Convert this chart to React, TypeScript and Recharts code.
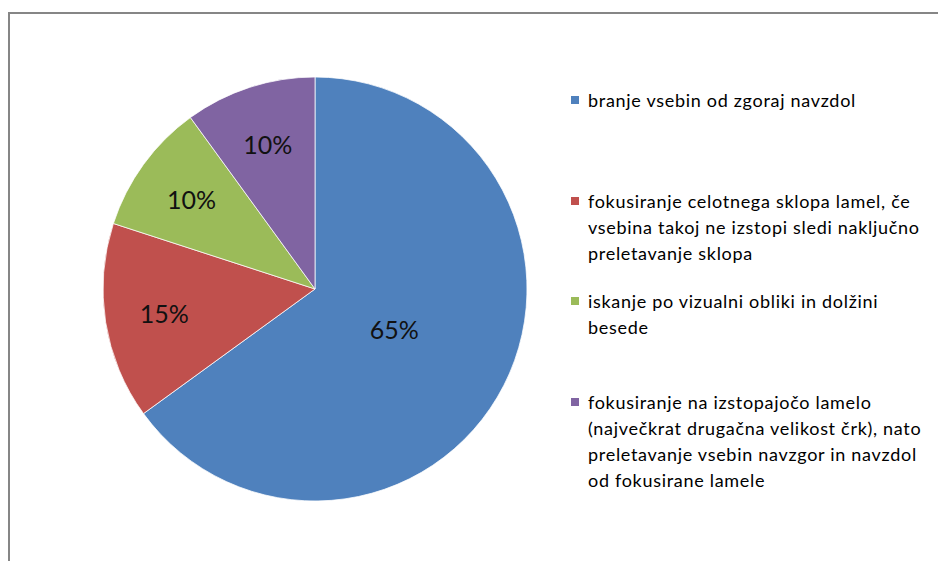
import { PieChart, Pie, Cell, Legend } from "recharts"

const categories = [
  "branje vsebin od zgoraj navzdol",
  "fokusiranje celotnega sklopa lamel, če vsebina takoj ne izstopi sledi naključno preletavanje sklopa",
  "iskanje po vizualni obliki in dolžini besede",
  "fokusiranje na izstopajočo lamelo (največkrat drugačna velikost črk), nato preletavanje vsebin navzgor in navzdol od fokusirane lamele",
]
const shares = [65, 15, 10, 10]
const colors = ["#4F81BD", "#C0504D", "#9BBB59", "#8064A2"]

const data = categories.map((name, i) => ({ name, value: shares[i] }))

const RADIAN = Math.PI / 180
const FONT = "Lato, 'Open Sans', sans-serif"

function renderLabel(props: any) {
  const { cx, cy, midAngle, outerRadius, percent } = props
  // big slice label sits closer to the centre, like Excel does
  const r = outerRadius * (percent > 0.5 ? 0.42 : 0.72)
  const x = cx + r * Math.cos(-midAngle * RADIAN)
  const y = cy + r * Math.sin(-midAngle * RADIAN)
  return (
    <text
      x={x}
      y={y}
      textAnchor="middle"
      dominantBaseline="central"
      fill="#111"
      fontSize={25}
      fontFamily={FONT}
    >
      {`${Math.round(percent * 100)}%`}
    </text>
  )
}

function LegendList({ payload }: any) {
  // keep the order of the categories (legend sorts by value otherwise)
  const items = [...(payload ?? [])].sort(
    (a: any, b: any) => categories.indexOf(a.value) - categories.indexOf(b.value)
  )
  return (
    <div style={{ fontFamily: FONT, fontSize: 18, color: "#000" }}>
      {items.map((entry: any, i: number) => (
        <div key={i} style={{ height: 100.7, display: "flex", alignItems: "flex-start" }}>
          <span
            style={{
              width: 8,
              height: 8,
              background: entry.color,
              marginTop: 9,
              marginRight: 9,
              flexShrink: 0,
            }}
          />
          <span style={{ lineHeight: "26px", letterSpacing: 0.7, width: 352 }}>{entry.value}</span>
        </div>
      ))}
    </div>
  )
}

export default function App() {
  return (
    <div style={{ position: "relative", width: 938, height: 553, overflow: "hidden", background: "#fff" }}>
      <div
        style={{
          position: "absolute",
          left: 0,
          top: 4,
          width: 1000,
          height: 1000,
          border: "2px solid #868686",
          boxSizing: "border-box",
        }}
      />
      <PieChart
        width={938}
        height={553}
        margin={{ top: 0, right: 0, bottom: 0, left: 0 }}
        style={{ position: "absolute", left: 0, top: 0 }}
      >
        <Pie
          data={data}
          dataKey="value"
          nameKey="name"
          cx={307}
          cy={281}
          outerRadius={212}
          startAngle={90}
          endAngle={-270}
          stroke="#fff"
          strokeWidth={0.75}
          label={renderLabel}
          labelLine={false}
          isAnimationActive={false}
        >
          {data.map((_, i) => (
            <Cell key={i} fill={colors[i]} />
          ))}
        </Pie>
        <Legend
          layout="vertical"
          align="right"
          verticalAlign="top"
          content={<LegendList />}
          wrapperStyle={{ left: 563, top: 79, width: 380, right: "auto" }}
        />
      </PieChart>
    </div>
  )
}
